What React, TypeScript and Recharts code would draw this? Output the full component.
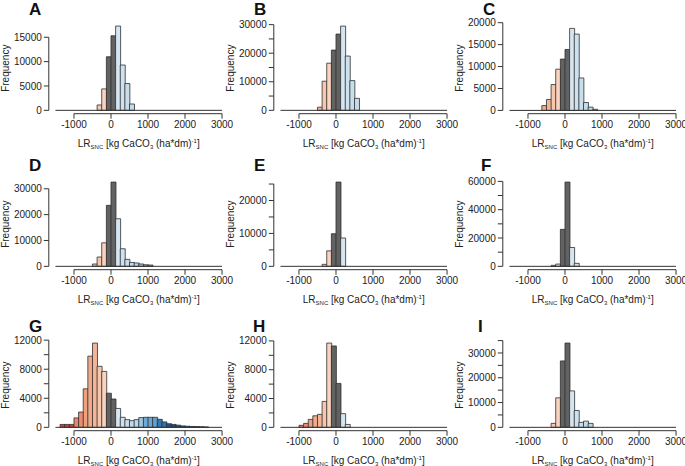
import React from "react";
import { BarChart, Bar, XAxis, YAxis, Cell, ReferenceLine } from "recharts";

// histogram bins (start of each 125-wide bin)
const binStarts = [
  -1500, -1375, -1250, -1125, -1000, -875, -750, -625, -500, -375, -250, -125,
  0, 125, 250, 375, 500, 625, 750, 875, 1000, 1125, 1250, 1375,
  1500, 1625, 1750, 1875, 2000, 2125, 2250, 2375, 2500, 2625, 2750, 2875,
];
const BIN_WIDTH = 125;
const xTicks = [-1000, 0, 1000, 2000, 3000];

// counts per panel, starting at the given bin
const startA = -375;
const countsA = [1100, 4400, 11000, 15300, 17300, 9300, 5500, 1300];
const startB = -500;
const countsB = [1100, 10200, 16500, 21100, 26700, 29500, 19000, 10400, 4200];
const startC = -625;
const countsC = [1100, 2500, 5900, 9400, 11700, 13900, 18700, 17400, 7400, 1800, 750, 250];
const startD = -500;
const countsD = [900, 3600, 9100, 23600, 32600, 18400, 6800, 2700, 1500, 1300, 900, 600, 500];
const startE = -375;
const countsE = [600, 4700, 9900, 25600, 8600];
const startF = -375;
const countsF = [700, 1600, 26100, 59500, 13300, 2100];
const startG = -1375;
const countsG = [
  400, 400, 400, 1300, 2100, 5300, 9800, 11600, 8400, 7700, 4700, 3900,
  2600, 1380, 1060, 920, 1060, 1340, 1380, 1380, 1380, 1100, 750, 500, 400, 300, 200, 150, 120, 100, 80, 60,
];
const startH = -1000;
const countsH = [280, 550, 1100, 1600, 1800, 3600, 11700, 11300, 6100, 1900, 400];
const startI = -375;
const countsI = [1600, 11900, 26800, 34000, 14700, 6800, 2000, 2500, 1600];

// y ticks and which of them carry a label
const ticksA = [0, 5000, 10000, 15000];
const labelsA = [0, 5000, 10000, 15000];
const ticksB = [0, 5000, 10000, 15000, 20000, 25000, 30000];
const labelsB = [0, 10000, 20000, 30000];
const ticksC = [0, 5000, 10000, 15000, 20000];
const labelsC = [0, 5000, 10000, 15000, 20000];
const ticksD = [0, 10000, 20000, 30000];
const labelsD = [0, 10000, 20000, 30000];
const ticksE = [0, 5000, 10000, 15000, 20000, 25000];
const labelsE = [0, 10000, 20000];
const ticksF = [0, 10000, 20000, 30000, 40000, 50000, 60000];
const labelsF = [0, 20000, 40000, 60000];
const ticksG = [0, 2000, 4000, 6000, 8000, 10000, 12000];
const labelsG = [0, 4000, 8000, 12000];
const ticksH = [0, 2000, 4000, 6000, 8000, 10000, 12000];
const labelsH = [0, 4000, 8000, 12000];
const ticksI = [0, 5000, 10000, 15000, 20000, 25000, 30000, 35000];
const labelsI = [0, 10000, 20000, 30000];

// fill colour of each bin (same palette for all panels)
const BIN_COLORS = [
  "#c8332f", "#d43d36", "#d43d36", "#d43d36", "#e8866a", "#ea8e6f", "#f0a07f", "#f2ab8b",
  "#f4b597", "#f7c7ad", "#f9d3bf", "#626262", "#626262", "#d6e6f1", "#cde1ee", "#c8deed",
  "#c2dbeb", "#b9d6ea", "#9ec8e2", "#6fabd4", "#6aa7d2", "#62a1ce", "#3479b4", "#2d71ad",
  "#1f5591", "#1c4b80", "#1c4b80", "#1c4b80", "#1c4b80", "#1c4b80", "#1c4b80", "#1c4b80",
  "#1c4b80", "#1c4b80", "#1c4b80", "#1c4b80",
];

const FONT = '"Liberation Sans", Arial, Helvetica, sans-serif';
const CW = 240;
const CH = 160;
const PL = 48.8; // plot left
const PT = 22.7; // plot top
const PW = 179.9;
const PH = 91;
const XH = 20;
const X_MIN = -1680;
const X_MAX = 3180;

interface PanelProps {
  letter: string;
  letterX: number;
  start: number;
  counts: number[];
  yTicks: number[];
  yLabels: number[];
  left: number;
  top: number;
}

function Panel({ letter, letterX, start, counts, yTicks, yLabels, left, top }: PanelProps) {
  const offset = binStarts.indexOf(start);
  const data = binStarts.map((bin, i) => {
    const k = i - offset;
    return { mid: bin + BIN_WIDTH / 2, count: k >= 0 && k < counts.length ? counts[k] : 0 };
  });
  const M = Math.max(...counts);
  const yMin = -0.04 * M;
  const yTop = Math.max(1.04 * M, yTicks[yTicks.length - 1]);
  const axisStroke = "#333";
  const tickStyle = { fontSize: 10, fill: "#222", fontFamily: FONT };

  return (
    <div style={{ position: "absolute", left, top, width: CW, height: CH }}>
      <svg width={CW} height={CH} style={{ position: "absolute", left: 0, top: 0 }}>
        <text x={letterX} y={15} fontSize={17} fontWeight="bold" fontFamily={FONT} fill="#111">
          {letter}
        </text>
        <text
          x={0}
          y={0}
          transform={`translate(8.5, ${PT + PH / 2}) rotate(-90)`}
          textAnchor="middle"
          fontSize={10}
          fontFamily={FONT}
          fill="#222"
        >
          Frequency
        </text>
        <text x={PL + PW / 2} y={146.5} textAnchor="middle" fontSize={10} fontFamily={FONT} fill="#222">
          LR
          <tspan dy={2.5} fontSize={6}>SNC</tspan>
          <tspan dy={-2.5}> [kg CaCO</tspan>
          <tspan dy={2.5} fontSize={6}>3</tspan>
          <tspan dy={-2.5}> (ha*dm)</tspan>
          <tspan dy={-4} fontSize={6}>-1</tspan>
          <tspan dy={4}>]</tspan>
        </text>
      </svg>
      <div style={{ position: "absolute", left: 0, top: 0 }}>
        <BarChart
          width={CW}
          height={CH}
          data={data}
          barCategoryGap={0}
          barGap={0}
          margin={{ top: PT, left: 0, right: CW - PL - PW, bottom: CH - PT - PH - XH }}
        >
          <XAxis
            dataKey="mid"
            type="number"
            domain={[X_MIN, X_MAX]}
            allowDataOverflow
            ticks={xTicks}
            interval={0}
            height={XH}
            axisLine={false}
            tickSize={5}
            tickMargin={2}
            tickLine={{ stroke: axisStroke }}
            tick={tickStyle}
          />
          <YAxis
            type="number"
            width={PL}
            domain={[yMin, yTop]}
            allowDataOverflow
            ticks={yTicks}
            interval={0}
            axisLine={false}
            tickSize={5}
            tickMargin={2}
            tickLine={{ stroke: axisStroke }}
            tick={tickStyle}
            tickFormatter={(v: number) => (yLabels.includes(v) ? String(v) : "")}
          />
          <ReferenceLine
            segment={[{ x: -1500, y: 0 }, { x: 3000, y: 0 }]}
            stroke={axisStroke}
            strokeWidth={1}
            ifOverflow="visible"
          />
          <ReferenceLine
            segment={[{ x: X_MIN, y: 0 }, { x: X_MIN, y: yTicks[yTicks.length - 1] }]}
            stroke={axisStroke}
            strokeWidth={1}
            ifOverflow="visible"
          />
          <ReferenceLine
            segment={[{ x: -1000, y: yMin }, { x: 3000, y: yMin }]}
            stroke={axisStroke}
            strokeWidth={1}
            ifOverflow="visible"
          />
          <Bar dataKey="count" stroke="#2e2e2e" strokeWidth={0.8} isAnimationActive={false}>
            {data.map((d, i) => (
              <Cell key={d.mid} fill={BIN_COLORS[i]} />
            ))}
          </Bar>
        </BarChart>
      </div>
    </div>
  );
}

const colX = [0, 225, 453.5];
const rowY = [0, 156, 317];

export default function App() {
  return (
    <div
      style={{
        position: "absolute",
        left: 0,
        top: 0,
        width: 685,
        height: 466,
        overflow: "hidden",
        background: "#fff",
      }}
    >
      <Panel letter="A" letterX={29} start={startA} counts={countsA} yTicks={ticksA} yLabels={labelsA} left={colX[0]} top={rowY[0]} />
      <Panel letter="B" letterX={29} start={startB} counts={countsB} yTicks={ticksB} yLabels={labelsB} left={colX[1]} top={rowY[0]} />
      <Panel letter="C" letterX={29} start={startC} counts={countsC} yTicks={ticksC} yLabels={labelsC} left={colX[2]} top={rowY[0]} />
      <Panel letter="D" letterX={29} start={startD} counts={countsD} yTicks={ticksD} yLabels={labelsD} left={colX[0]} top={rowY[1]} />
      <Panel letter="E" letterX={29} start={startE} counts={countsE} yTicks={ticksE} yLabels={labelsE} left={colX[1]} top={rowY[1]} />
      <Panel letter="F" letterX={27} start={startF} counts={countsF} yTicks={ticksF} yLabels={labelsF} left={colX[2]} top={rowY[1]} />
      <Panel letter="G" letterX={29} start={startG} counts={countsG} yTicks={ticksG} yLabels={labelsG} left={colX[0]} top={rowY[2]} />
      <Panel letter="H" letterX={28} start={startH} counts={countsH} yTicks={ticksH} yLabels={labelsH} left={colX[1]} top={rowY[2]} />
      <Panel letter="I" letterX={24} start={startI} counts={countsI} yTicks={ticksI} yLabels={labelsI} left={colX[2]} top={rowY[2]} />
    </div>
  );
}
